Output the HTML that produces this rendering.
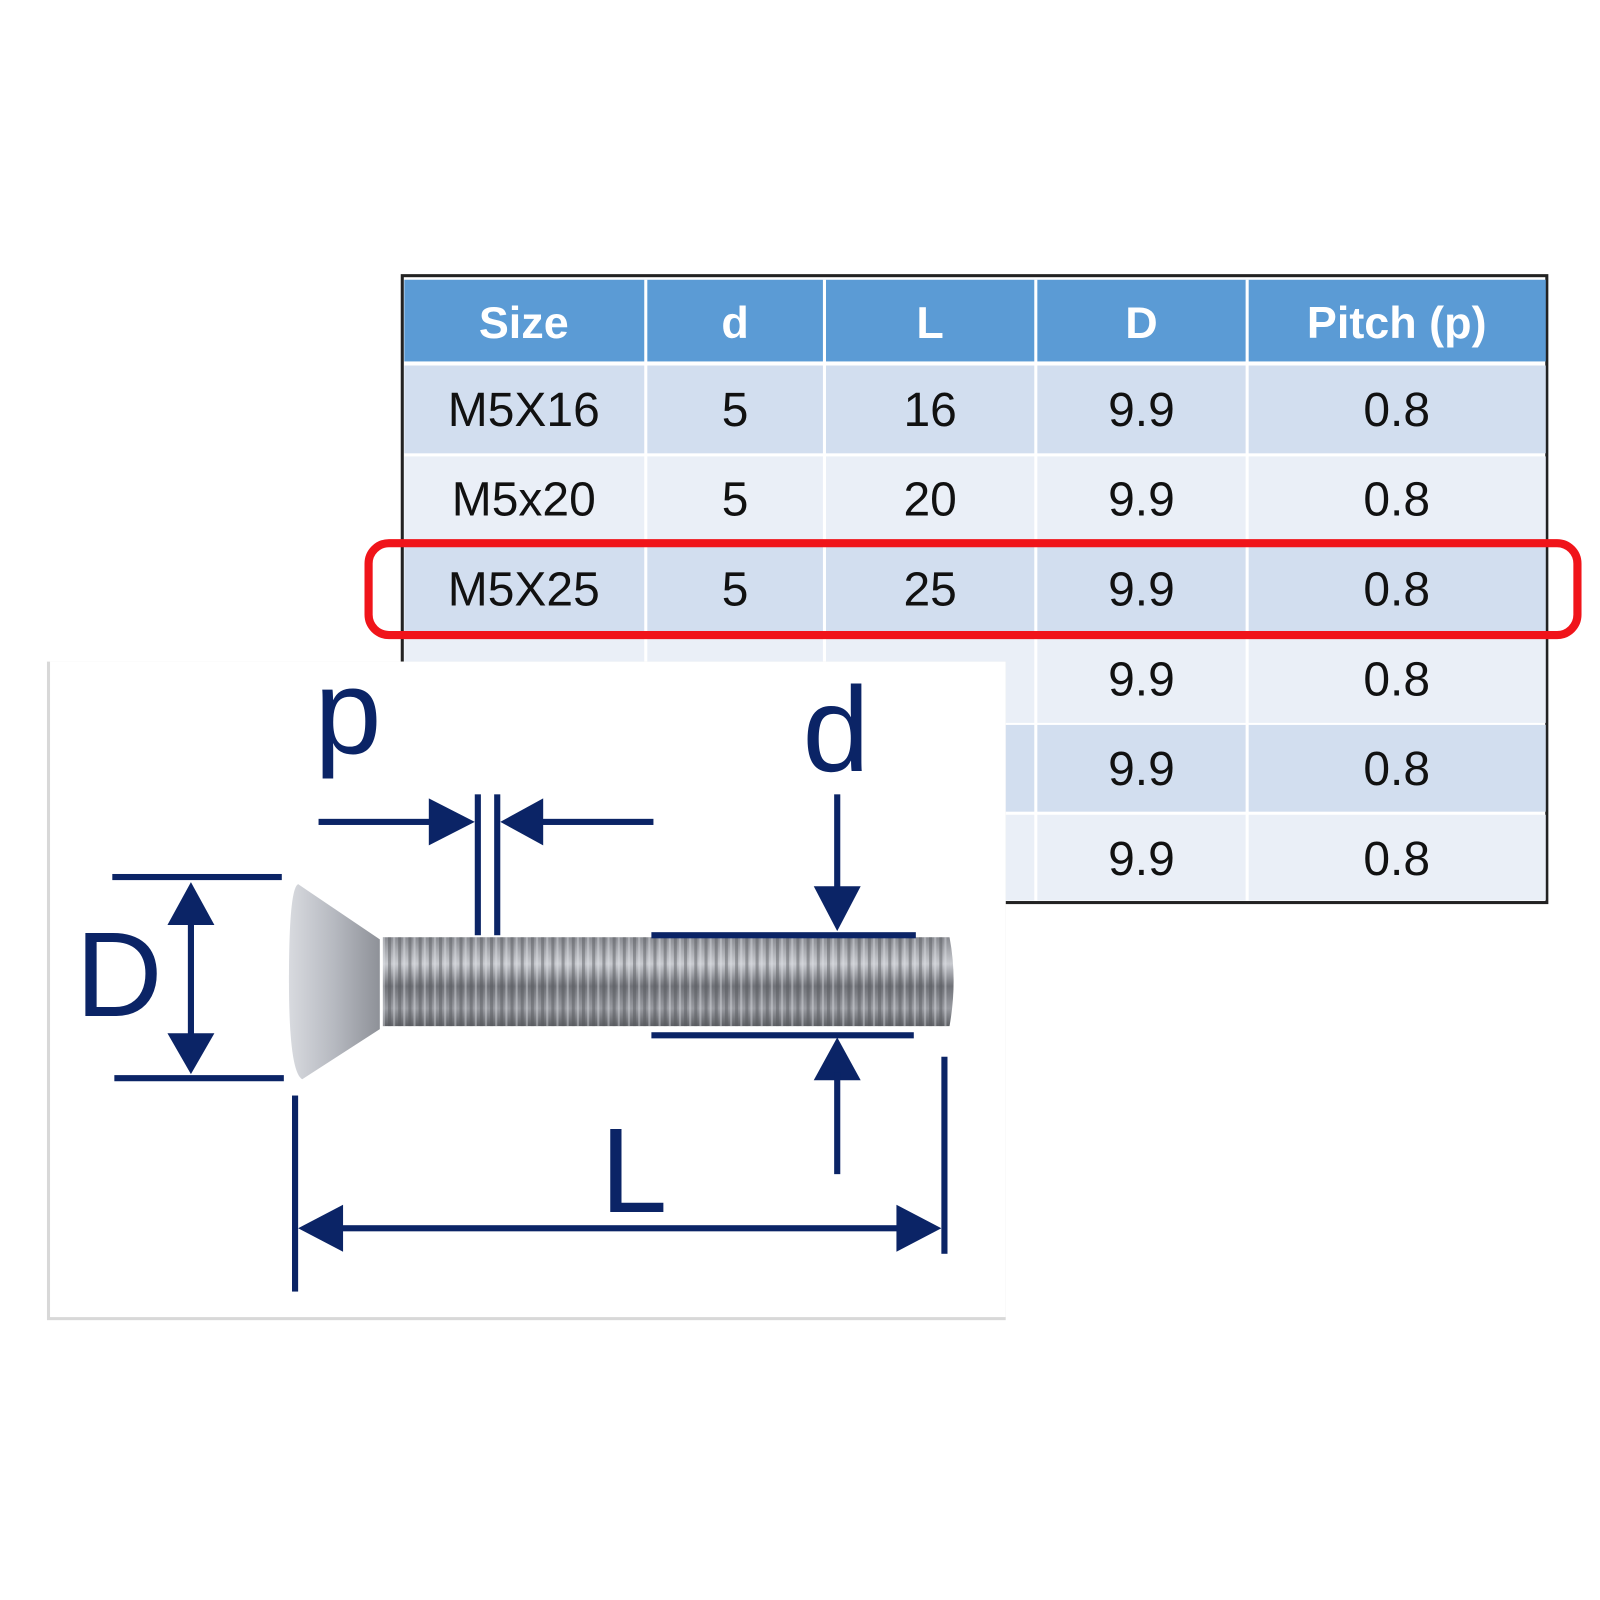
<!DOCTYPE html>
<html><head><meta charset="utf-8"><style>
html,body{margin:0;padding:0;background:#fff}
svg{display:block}
</style></head><body>
<svg width="1600" height="1600" viewBox="0 0 1600 1600" xmlns="http://www.w3.org/2000/svg">
<defs>
<linearGradient id="shank" x1="0" y1="0" x2="0" y2="1">
<stop offset="0" stop-color="#8a8c92"/><stop offset="0.3" stop-color="#c9cbd0"/><stop offset="0.55" stop-color="#6f7177"/><stop offset="0.8" stop-color="#9a9ca2"/><stop offset="1" stop-color="#5d5f64"/>
</linearGradient>
<linearGradient id="head" x1="0" y1="0" x2="1" y2="0">
<stop offset="0" stop-color="#d8dadf"/><stop offset="0.5" stop-color="#b6b9c0"/><stop offset="1" stop-color="#8e9198"/>
</linearGradient>
<pattern id="thr" width="10" height="200" patternUnits="userSpaceOnUse">
<rect width="10" height="200" fill="none"/><rect x="0" width="3" height="200" fill="#55575c" opacity="0.45"/><rect x="5" width="2" height="200" fill="#e4e6ea" opacity="0.4"/>
</pattern>
</defs>
<g font-family="'Liberation Sans',sans-serif" transform="scale(1.021)">
<rect x="394" y="270" width="1121" height="614" fill="#fff" stroke="#222" stroke-width="3"/>
<rect x="396" y="274" width="1118" height="80" fill="#5b9bd5"/>
<rect x="396" y="358" width="1118" height="86" fill="#d2deef"/>
<rect x="396" y="447" width="1118" height="85" fill="#eaeff7"/>
<rect x="396" y="535" width="1118" height="85" fill="#d2deef"/>
<rect x="396" y="622" width="1118" height="86" fill="#eaeff7"/>
<rect x="396" y="710" width="1118" height="85" fill="#d2deef"/>
<rect x="396" y="798" width="1118" height="84" fill="#eaeff7"/>
<g fill="#fff"><rect x="631" y="274" width="3" height="608"/><rect x="806" y="274" width="3" height="608"/><rect x="1013" y="274" width="3" height="608"/><rect x="1220" y="274" width="3" height="608"/></g>
<g fill="#fff" font-weight="bold" font-size="44" text-anchor="middle">
<text x="513" y="331">Size</text><text x="720" y="331">d</text><text x="911" y="331">L</text><text x="1118" y="331">D</text><text x="1368" y="331">Pitch (p)</text>
</g>
<g fill="#111" font-size="47" text-anchor="middle">
<text x="513" y="417">M5X16</text><text x="720" y="417">5</text><text x="911" y="417">16</text><text x="1118" y="417">9.9</text><text x="1368" y="417">0.8</text>
<text x="513" y="505">M5x20</text><text x="720" y="505">5</text><text x="911" y="505">20</text><text x="1118" y="505">9.9</text><text x="1368" y="505">0.8</text>
<text x="513" y="593">M5X25</text><text x="720" y="593">5</text><text x="911" y="593">25</text><text x="1118" y="593">9.9</text><text x="1368" y="593">0.8</text>
<text x="513" y="681">M5x30</text><text x="720" y="681">5</text><text x="911" y="681">30</text><text x="1118" y="681">9.9</text><text x="1368" y="681">0.8</text>
<text x="1118" y="769">9.9</text><text x="1368" y="769">0.8</text>
<text x="1118" y="857">9.9</text><text x="1368" y="857">0.8</text>
</g>
<rect x="361" y="532" width="1184" height="90" rx="20" fill="none" stroke="#f0141a" stroke-width="8"/>
<rect x="46" y="648" width="939" height="645" fill="#d8d8d8"/>
<rect x="49" y="648" width="936" height="642" fill="#fff"/>
<path d="M375 918 L930 918 Q938 960 930 1005 L375 1005 Z" fill="url(#shank)"/>
<rect x="375" y="918" width="555" height="87" fill="url(#thr)"/>
<path d="M292 866 Q283 870 283 960 Q283 1050 296 1057 L372 1008 L372 920 Z" fill="url(#head)"/>
<g fill="#0b2466" stroke="none">
<rect x="110" y="856" width="166" height="6"/><rect x="112" y="1053" width="166" height="6"/>
<rect x="184" y="895" width="6" height="130"/>
<polygon points="187,864 164,906 210,906"/><polygon points="187,1052 164,1012 210,1012"/>
<rect x="312" y="802" width="120" height="6"/><polygon points="465,805 420,782 420,828"/>
<rect x="465" y="778" width="6" height="138"/><rect x="484" y="778" width="6" height="138"/>
<rect x="520" y="802" width="120" height="6"/><polygon points="490,805 532,782 532,828"/>
<rect x="817" y="778" width="6" height="100"/><polygon points="820,912 797,868 843,868"/>
<rect x="638" y="913" width="259" height="6"/><rect x="638" y="1011" width="257" height="6"/>
<polygon points="820,1016 797,1058 843,1058"/><rect x="817" y="1050" width="6" height="100"/>
<rect x="286" y="1073" width="6" height="192"/><rect x="922" y="1035" width="6" height="193"/>
<rect x="320" y="1200" width="570" height="6"/>
<polygon points="292,1203 336,1180 336,1226"/><polygon points="922,1203 878,1180 878,1226"/>
</g>
<g fill="#0b2466" font-size="118">
<text x="74" y="995">D</text>
<text x="308" y="738">p</text>
<text x="786" y="755">d</text>
<text x="588" y="1187">L</text>
</g>
</g>
</svg>
</body></html>
